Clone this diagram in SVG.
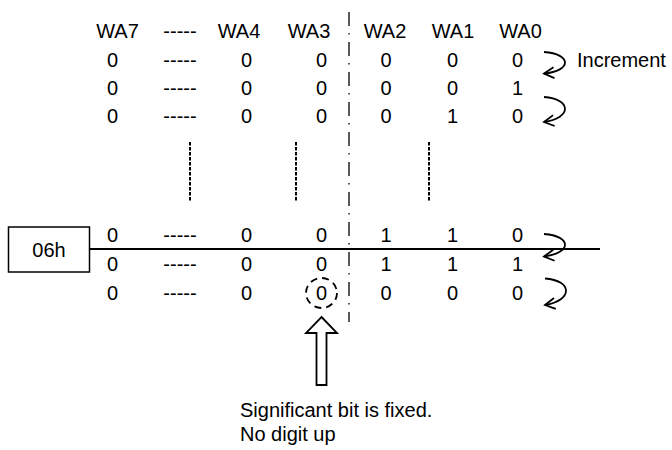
<svg xmlns="http://www.w3.org/2000/svg" width="672" height="450" viewBox="0 0 672 450">
<style>
text{font-family:"Liberation Sans",Arial,sans-serif;font-size:20px;fill:#000}
.c{text-anchor:middle}
.ln{fill:none;stroke:#000}
.curl{fill:none;stroke:#000;stroke-width:1.8;marker-end:url(#ah)}
.dot{fill:none;stroke:#000;stroke-width:2;stroke-dasharray:3.5 1.5}
</style>
<defs>
<marker id="ah" viewBox="-12 -7 14 14" refX="0" refY="0" markerWidth="14" markerHeight="14" orient="auto" markerUnits="userSpaceOnUse">
<path d="M-10,-5.5 L0,0 L-10,5.5" fill="none" stroke="#000" stroke-width="1.8"/>
</marker>
</defs>
<rect width="672" height="450" fill="#fff"/>
<g id="header">
<text class="c" x="117.5" y="38">WA7</text>
<text class="c" x="180" y="38">-----</text>
<text class="c" x="239" y="38">WA4</text>
<text class="c" x="309" y="38">WA3</text>
<text class="c" x="385" y="38">WA2</text>
<text class="c" x="453" y="38">WA1</text>
<text class="c" x="520.5" y="38">WA0</text>
</g>
<g id="row1">
<text class="c" x="112.5" y="67">0</text><text class="c" x="180" y="67">-----</text><text class="c" x="246.5" y="67">0</text><text class="c" x="321.5" y="67">0</text><text class="c" x="386" y="67">0</text><text class="c" x="452.5" y="67">0</text><text class="c" x="517.5" y="67">0</text>
</g>
<g id="row2">
<text class="c" x="112.5" y="95">0</text><text class="c" x="180" y="95">-----</text><text class="c" x="246.5" y="95">0</text><text class="c" x="321.5" y="95">0</text><text class="c" x="386" y="95">0</text><text class="c" x="452.5" y="95">0</text><text class="c" x="517.5" y="95">1</text>
</g>
<g id="row3">
<text class="c" x="112.5" y="123">0</text><text class="c" x="180" y="123">-----</text><text class="c" x="246.5" y="123">0</text><text class="c" x="321.5" y="123">0</text><text class="c" x="386" y="123">0</text><text class="c" x="452.5" y="123">1</text><text class="c" x="517.5" y="123">0</text>
</g>
<g id="row4">
<text class="c" x="112.5" y="242">0</text><text class="c" x="180" y="242">-----</text><text class="c" x="246.5" y="242">0</text><text class="c" x="321.5" y="242">0</text><text class="c" x="386" y="242">1</text><text class="c" x="452.5" y="242">1</text><text class="c" x="517.5" y="242">0</text>
</g>
<g id="row5">
<text class="c" x="112.5" y="271">0</text><text class="c" x="180" y="271">-----</text><text class="c" x="246.5" y="271">0</text><text class="c" x="321.5" y="271">0</text><text class="c" x="386" y="271">1</text><text class="c" x="452.5" y="271">1</text><text class="c" x="517.5" y="271">1</text>
</g>
<g id="row6">
<text class="c" x="112.5" y="300">0</text><text class="c" x="180" y="300">-----</text><text class="c" x="246.5" y="300">0</text><text class="c" x="321.5" y="300">0</text><text class="c" x="386" y="300">0</text><text class="c" x="452.5" y="300">0</text><text class="c" x="517.5" y="300">0</text>
</g>
<g id="box06h">
<rect x="8.5" y="227" width="81" height="45" fill="#fff" stroke="#000" stroke-width="1.5"/>
<text class="c" x="49" y="257">06h</text>
</g>
<g id="increment-label">
<text x="577" y="67">Increment</text>
</g>
<g id="fixed-label">
<text x="240" y="417">Significant bit is fixed.</text>
<text x="240" y="441">No digit up</text>
</g>
<g id="connectors">
<line class="ln" x1="349" y1="12" x2="349" y2="322" stroke-width="1.3" stroke-dasharray="14 7 1.5 7.5"/>
<line class="dot" x1="190" y1="142" x2="190" y2="202"/>
<line class="dot" x1="296" y1="142" x2="296" y2="202"/>
<line class="dot" x1="429" y1="142" x2="429" y2="202"/>
<line class="ln" x1="89.5" y1="249" x2="600" y2="249" stroke-width="2"/>
<path class="curl" d="M544,52 c28,2 28,19 0,21.5"/>
<path class="curl" d="M544,97 c28,2 28,21 0,25"/>
<path class="curl" d="M544,234 c28,2 28,19 0,22.5"/>
<path class="curl" d="M545,278.5 c28,2 28,22 0,26.5"/>
<ellipse cx="321.5" cy="293" rx="15.5" ry="15" fill="none" stroke="#000" stroke-width="1.8" stroke-dasharray="7 5"/>
<polygon points="321.5,317 337,333 326.5,333 326.5,385 316.5,385 316.5,333 306,333" fill="#fff" stroke="#000" stroke-width="1.8" stroke-linejoin="miter"/>
</g>
</svg>
